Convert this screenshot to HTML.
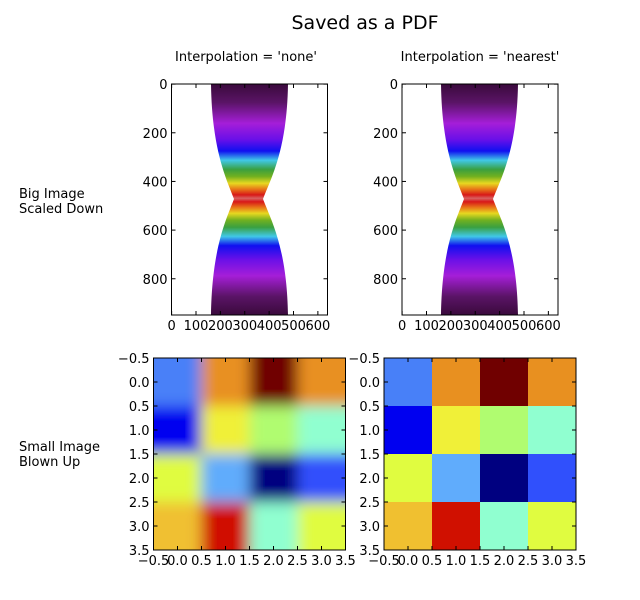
<!DOCTYPE html>
<html><head><meta charset="utf-8"><style>
html,body{margin:0;padding:0;background:#fff;}
svg{display:block;font-family:"DejaVu Sans","Liberation Sans",sans-serif;}
</style></head><body>
<svg id="s" width="640" height="600" xmlns="http://www.w3.org/2000/svg">
<defs>
<linearGradient id="g" x1="0" y1="84" x2="0" y2="315" gradientUnits="userSpaceOnUse">
<stop offset="0" stop-color="#3a0a3c"/>
<stop offset="0.08" stop-color="#5a1466"/>
<stop offset="0.17" stop-color="#a51ed8"/>
<stop offset="0.24" stop-color="#6a10e8"/>
<stop offset="0.29" stop-color="#1010f0"/>
<stop offset="0.33" stop-color="#40c8e8"/>
<stop offset="0.37" stop-color="#3aa040"/>
<stop offset="0.40" stop-color="#70b020"/>
<stop offset="0.43" stop-color="#e8d820"/>
<stop offset="0.455" stop-color="#e87818"/>
<stop offset="0.48" stop-color="#d81818"/>
<stop offset="0.495" stop-color="#d86060"/>
<stop offset="0.51" stop-color="#d81818"/>
<stop offset="0.535" stop-color="#e87818"/>
<stop offset="0.56" stop-color="#e8d820"/>
<stop offset="0.59" stop-color="#70b020"/>
<stop offset="0.62" stop-color="#3aa040"/>
<stop offset="0.66" stop-color="#40c8e8"/>
<stop offset="0.70" stop-color="#1010f0"/>
<stop offset="0.76" stop-color="#6a10e8"/>
<stop offset="0.83" stop-color="#a51ed8"/>
<stop offset="0.92" stop-color="#5a1466"/>
<stop offset="1" stop-color="#3a0a3c"/>
</linearGradient>
<clipPath id="cb1"><rect x="153" y="358" width="193" height="192"/></clipPath>
<filter id="bl" filterUnits="userSpaceOnUse" x="100" y="300" width="300" height="300"><feGaussianBlur stdDeviation="7"/></filter>
</defs>
<text x="365" y="29" font-size="19" text-anchor="middle">Saved as a PDF</text>
<text x="246" y="61" font-size="13" text-anchor="middle">Interpolation = 'none'</text>
<text x="480" y="61" font-size="13" text-anchor="middle">Interpolation = 'nearest'</text>
<text x="19" y="198" font-size="13">Big Image</text>
<text x="19" y="213" font-size="13">Scaled Down</text>
<text x="19" y="451" font-size="13">Small Image</text>
<text x="19" y="466" font-size="13">Blown Up</text>
<path d="M211,84 C212,150 226,178 234,199 C226,220 212,248 211,315 L288,315 C287,248 271,220 263,199 C271,178 287,150 288,84 Z" fill="url(#g)"/>
<g transform="translate(230,0)"><path d="M211,84 C212,150 226,178 234,199 C226,220 212,248 211,315 L288,315 C287,248 271,220 263,199 C271,178 287,150 288,84 Z" fill="url(#g)"/></g>
<g id="dyn"></g>
</svg>
<script>
(function(){
var C=[["#4880f8","#e89020","#700000","#e89020"],["#0000f0","#f0f038","#b0fc70","#90ffd0"],["#e0fc40","#60acfc","#000080","#3050fc"],["#f0c030","#d01000","#90ffd0","#e0fc40"]];
var NS="http://www.w3.org/2000/svg";
var root=document.getElementById('dyn');
function el(tag,attrs,parent,txt){var e=document.createElementNS(NS,tag);for(var k in attrs)e.setAttribute(k,attrs[k]);if(txt!==undefined)e.textContent=txt;(parent||root).appendChild(e);return e;}
function cells(x0,y0,w,hh,parent,pad){for(var r=0;r<4;r++)for(var c=0;c<4;c++){var x=x0+c*w/4,y=y0+r*hh/4,cw=w/4+0.5,ch=hh/4+0.5;if(pad){if(c==0){x-=pad;cw+=pad;}if(c==3)cw+=pad;if(r==0){y-=pad;ch+=pad;}if(r==3)ch+=pad;}el('rect',{x:x,y:y,width:cw,height:ch,fill:C[r][c]},parent);}}
var g1=el('g',{'clip-path':'url(#cb1)'});var g2=el('g',{filter:'url(#bl)'},g1);
cells(153,358,193,192,g2,40);
cells(384,358,192,192,root,0);
function axes(x0,y0,w,hh,xt,yt){
 el('rect',{x:x0,y:y0,width:w,height:hh,fill:'none',stroke:'#000','stroke-width':1});
 xt.forEach(function(t){var v=t[0];el('line',{x1:v,y1:y0,x2:v,y2:y0+4,stroke:'#000'});el('line',{x1:v,y1:y0+hh,x2:v,y2:y0+hh-4,stroke:'#000'});el('text',{x:v,y:y0+hh+15,'font-size':13,'text-anchor':'middle'},root,t[1]);});
 yt.forEach(function(t){var v=t[0];el('line',{x1:x0,y1:v,x2:x0+4,y2:v,stroke:'#000'});el('line',{x1:x0+w,y1:v,x2:x0+w-4,y2:v,stroke:'#000'});el('text',{x:x0-4,y:v+5,'font-size':13,'text-anchor':'end'},root,t[1]);});
}
function topAx(x0){var s=156/640;var xt=[],yt=[];for(var i=0;i<=6;i++)xt.push([x0+0.5*s+i*100*s,String(i*100)]);for(var j=0;j<=4;j++)yt.push([84+0.5*0.2433+j*200*0.2433,String(j*200)]);axes(x0,84,156,231,xt,yt);}
topAx(171.5);topAx(402);
function botAx(x0){var xt=[],yt=[];var lab=["\u22120.5","0.0","0.5","1.0","1.5","2.0","2.5","3.0","3.5"];for(var i=0;i<9;i++){xt.push([x0+i*24,lab[i]]);yt.push([358+i*24,lab[i]]);}axes(x0,358,192,192,xt,yt);}
botAx(153.5);botAx(384);
})();
</script>
</body></html>
